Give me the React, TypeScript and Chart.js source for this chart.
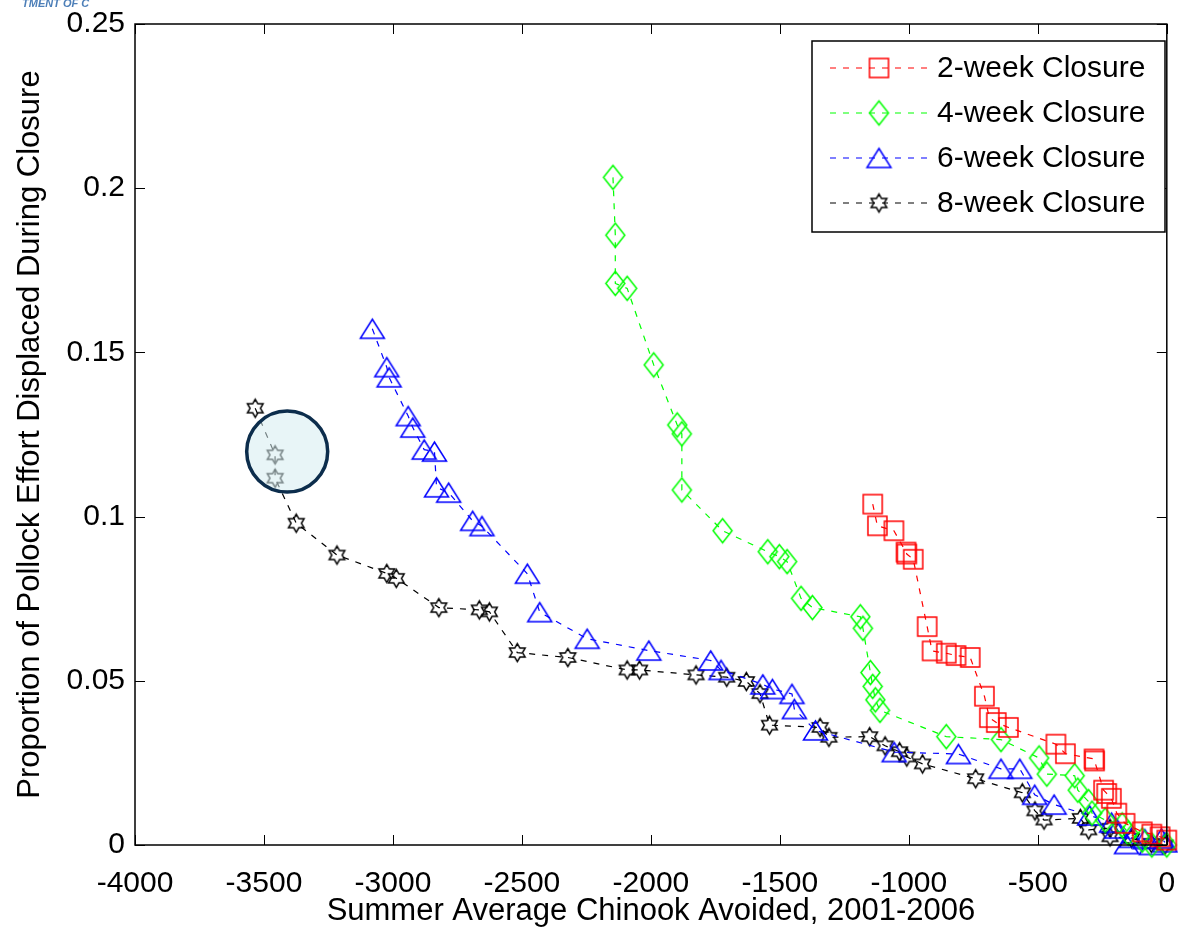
import React, { useEffect, useRef } from 'react';
import { Chart, registerables } from 'chart.js';

Chart.register(...registerables);

// ---------------- data ----------------
const X_TICKS = [-4000, -3500, -3000, -2500, -2000, -1500, -1000, -500, 0];
const X_TICK_LABELS = ['-4000', '-3500', '-3000', '-2500', '-2000', '-1500', '-1000', '-500', '0'];
const Y_TICKS = [0, 0.05, 0.1, 0.15, 0.2, 0.25];
const Y_TICK_LABELS = ['0', '0.05', '0.1', '0.15', '0.2', '0.25'];

const X_TITLE = 'Summer Average Chinook Avoided, 2001-2006';
const Y_TITLE = 'Proportion of Pollock Effort Displaced During Closure';
const SERIES_NAMES = ['2-week Closure', '4-week Closure', '6-week Closure', '8-week Closure'];

const WEEK2_X = [-1140, -1122, -1058, -1011, -1008, -983, -929, -910, -855, -817, -762, -707, -688, -661, -614, -430, -393, -282, -280, -245, -233, -215, -194, -162, -95, -58, -26, 0];
const WEEK2_Y = [0.1038, 0.0972, 0.0957, 0.0892, 0.0886, 0.087, 0.0665, 0.0591, 0.0584, 0.0577, 0.0571, 0.0453, 0.0388, 0.0373, 0.0358, 0.0307, 0.0278, 0.0262, 0.0256, 0.0167, 0.0157, 0.0142, 0.0097, 0.0066, 0.004, 0.0033, 0.0025, 0.0015];

const WEEK4_X = [-2147, -2138, -2138, -2092, -1989, -1898, -1880, -1880, -1722, -1547, -1502, -1472, -1418, -1374, -1188, -1178, -1149, -1140, -1130, -1112, -855, -643, -495, -465, -357, -345, -303, -290, -239, -173, -149, -95, -58, 0];
const WEEK4_Y = [0.2033, 0.1857, 0.171, 0.1695, 0.1462, 0.1279, 0.1252, 0.1081, 0.0957, 0.0893, 0.0878, 0.0863, 0.0751, 0.0723, 0.0695, 0.066, 0.0525, 0.0483, 0.0442, 0.041, 0.033, 0.0321, 0.0265, 0.0216, 0.0211, 0.0167, 0.0132, 0.0097, 0.0076, 0.0061, 0.0036, 0.0015, 0.0, 0.0];

const WEEK6_X = [-3080, -3024, -3015, -2941, -2923, -2879, -2839, -2831, -2784, -2691, -2655, -2479, -2431, -2247, -2008, -1768, -1728, -1566, -1529, -1453, -1444, -1362, -1057, -808, -643, -570, -512, -437, -299, -214, -194, -156, -137, -85, -60, -21, -7];
const WEEK6_Y = [0.1572, 0.1455, 0.1424, 0.1306, 0.1271, 0.1204, 0.1198, 0.1089, 0.1073, 0.0987, 0.0971, 0.0826, 0.0709, 0.0628, 0.0592, 0.0562, 0.0533, 0.0489, 0.0475, 0.046, 0.0414, 0.0349, 0.0283, 0.0277, 0.0232, 0.0232, 0.0153, 0.0123, 0.009, 0.0068, 0.005, 0.0003, 0.0022, 0.0018, 0.0, 0.002, 0.0008];

const WEEK8_X = [-3534, -3457, -3457, -3375, -3217, -3024, -2987, -2822, -2665, -2626, -2518, -2322, -2092, -2044, -1825, -1706, -1630, -1577, -1540, -1344, -1310, -1152, -1092, -1036, -1008, -947, -741, -560, -511, -476, -335, -303, -220, -220, -137, -60, -7];
const WEEK8_Y = [0.133, 0.1188, 0.1117, 0.098, 0.0883, 0.0827, 0.0812, 0.0723, 0.0716, 0.071, 0.0586, 0.0571, 0.0533, 0.0533, 0.0518, 0.0511, 0.0498, 0.0461, 0.0365, 0.0358, 0.0328, 0.033, 0.0302, 0.0284, 0.0268, 0.0247, 0.0202, 0.0159, 0.0104, 0.0076, 0.0081, 0.0046, 0.0051, 0.0025, 0.002, 0.0005, 0.0];

// highlighted region (circle annotation)
const HIGHLIGHT_X = -3410;
const HIGHLIGHT_Y = 0.1198;

// ---------------- styling ----------------
const FONT_FAMILY = '"Liberation Sans", Arial, Helvetica, sans-serif';
const COLORS = ['#ff0000', '#00ff00', '#0000ff', '#000000'];
const DASH = [6, 7];

type MarkerKind = 'square' | 'diamond' | 'triangle' | 'hexagram';
const KINDS: MarkerKind[] = ['square', 'diamond', 'triangle', 'hexagram'];

function makeMarker(kind: MarkerKind, color: string): HTMLCanvasElement {
  const size = 29;
  const c = document.createElement('canvas');
  c.width = size;
  c.height = size;
  const ctx = c.getContext('2d')!;
  const m = size / 2;
  ctx.strokeStyle = color;
  ctx.lineWidth = 1.5;
  ctx.lineJoin = 'miter';
  ctx.beginPath();
  if (kind === 'square') {
    ctx.rect(m - 9.5, m - 9.5, 19, 19);
  } else if (kind === 'diamond') {
    ctx.moveTo(m, m - 12);
    ctx.lineTo(m + 9.5, m);
    ctx.lineTo(m, m + 12);
    ctx.lineTo(m - 9.5, m);
    ctx.closePath();
  } else if (kind === 'triangle') {
    ctx.moveTo(m, m - 9.5);
    ctx.lineTo(m + 12, m + 9.5);
    ctx.lineTo(m - 12, m + 9.5);
    ctx.closePath();
  } else {
    const R = 9;
    const r = R / Math.sqrt(3);
    for (let i = 0; i < 12; i++) {
      const a = -Math.PI / 2 + (i * Math.PI) / 6;
      const rr = i % 2 === 0 ? R : r;
      const px = m + rr * Math.cos(a);
      const py = m + rr * Math.sin(a);
      if (i === 0) ctx.moveTo(px, py);
      else ctx.lineTo(px, py);
    }
    ctx.closePath();
  }
  ctx.stroke();
  return c;
}

function pts(xs: number[], ys: number[]) {
  return xs.map((x, i) => ({ x, y: ys[i] }));
}

export default function App() {
  const ref = useRef<HTMLCanvasElement | null>(null);

  useEffect(() => {
    const canvas = ref.current;
    if (!canvas) return;
    const markers = KINDS.map((k, i) => makeMarker(k, COLORS[i]));
    const seriesX = [WEEK2_X, WEEK4_X, WEEK6_X, WEEK8_X];
    const seriesY = [WEEK2_Y, WEEK4_Y, WEEK6_Y, WEEK8_Y];

    const framePlugin = {
      id: 'frame',
      afterDatasetsDraw(chart: any) {
        const { ctx, scales } = chart;
        const cx = scales.x.getPixelForValue(HIGHLIGHT_X);
        const cy = scales.y.getPixelForValue(HIGHLIGHT_Y);
        ctx.save();
        ctx.beginPath();
        ctx.arc(cx, cy, 40.5, 0, Math.PI * 2);
        ctx.fillStyle = 'rgba(214, 236, 240, 0.55)';
        ctx.fill();
        ctx.lineWidth = 3.5;
        ctx.strokeStyle = '#0c2d4c';
        ctx.stroke();
        ctx.restore();
      },
      afterDraw(chart: any) {
        const { ctx, chartArea, scales } = chart;
        const { left, right, top, bottom } = chartArea;
        ctx.save();
        ctx.strokeStyle = '#000';
        ctx.lineWidth = 1.5;
        ctx.setLineDash([]);
        ctx.strokeRect(left, top, right - left, bottom - top);
        ctx.lineWidth = 1;
        ctx.beginPath();
        X_TICKS.forEach((v) => {
          const px = Math.round(scales.x.getPixelForValue(v)) + 0.5;
          ctx.moveTo(px, bottom);
          ctx.lineTo(px, bottom - 10);
          ctx.moveTo(px, top);
          ctx.lineTo(px, top + 10);
        });
        Y_TICKS.forEach((v) => {
          const py = Math.round(scales.y.getPixelForValue(v)) + 0.5;
          ctx.moveTo(left, py);
          ctx.lineTo(left + 10, py);
          ctx.moveTo(right, py);
          ctx.lineTo(right - 10, py);
        });
        ctx.stroke();

        // legend
        const lx = 812, ly = 41, lw = 353, lh = 191;
        ctx.fillStyle = '#fff';
        ctx.fillRect(lx, ly, lw, lh);
        ctx.lineWidth = 1.5;
        ctx.strokeRect(lx, ly, lw, lh);
        ctx.font = '30px ' + FONT_FAMILY;
        ctx.textBaseline = 'middle';
        ctx.textAlign = 'left';
        SERIES_NAMES.forEach((name, i) => {
          const ry = ly + 27 + i * 45;
          ctx.save();
          ctx.strokeStyle = COLORS[i];
          ctx.lineWidth = 1.2;
          ctx.setLineDash(DASH);
          ctx.beginPath();
          ctx.moveTo(830, ry);
          ctx.lineTo(927, ry);
          ctx.stroke();
          ctx.restore();
          const mk = markers[i];
          ctx.drawImage(mk, 879 - mk.width / 2, ry - mk.height / 2);
          ctx.fillStyle = '#000';
          ctx.fillText(name, 937, ry + 1);
        });

        // partial logo text at the top-left corner
        ctx.font = 'italic bold 11px ' + FONT_FAMILY;
        ctx.fillStyle = '#4d7fb8';
        ctx.textBaseline = 'alphabetic';
        ctx.fillText('TMENT OF C', 22, 7);
        ctx.restore();
      },
    };

    const tickFont = { family: FONT_FAMILY, size: 30 };
    const titleFont = { family: FONT_FAMILY, size: 31, lineHeight: 1 };

    const chart = new Chart(canvas, {
      type: 'scatter',
      data: {
        datasets: SERIES_NAMES.map((name, i) => ({
          label: name,
          data: pts(seriesX[i], seriesY[i]),
          showLine: true,
          borderColor: COLORS[i],
          backgroundColor: 'transparent',
          borderWidth: 1.2,
          borderDash: DASH,
          pointStyle: markers[i] as any,
          pointRadius: 10,
          tension: 0,
          fill: false,
          clip: false as any,
        })),
      },
      options: {
        animation: false,
        responsive: false,
        events: [],
        layout: { padding: { top: 24, right: 2, left: 0, bottom: 0 } },
        plugins: {
          legend: { display: false },
          tooltip: { enabled: false },
        },
        scales: {
          x: {
            type: 'linear',
            min: -4000,
            max: 0,
            grid: { display: false, drawTicks: false },
            border: { display: false },
            afterBuildTicks: (s: any) => {
              s.ticks = X_TICKS.map((v) => ({ value: v }));
            },
            ticks: {
              autoSkip: false,
              maxRotation: 0,
              color: '#000',
              font: tickFont,
              padding: 21,
              callback: (_v: any, i: number) => X_TICK_LABELS[i],
            },
            title: {
              display: true,
              text: X_TITLE,
              color: '#000',
              font: titleFont,
              padding: { top: 0, bottom: 0 },
            },
            afterFit: (s: any) => {
              s.height = 82;
              s.paddingLeft = 0;
              s.paddingRight = 0;
            },
          },
          y: {
            type: 'linear',
            min: 0,
            max: 0.25,
            grid: { display: false, drawTicks: false },
            border: { display: false },
            afterBuildTicks: (s: any) => {
              s.ticks = Y_TICKS.map((v) => ({ value: v }));
            },
            ticks: {
              autoSkip: false,
              color: '#000',
              font: tickFont,
              padding: 10,
              callback: (_v: any, i: number) => Y_TICK_LABELS[i],
            },
            title: {
              display: true,
              text: Y_TITLE,
              color: '#000',
              font: titleFont,
              padding: { top: 15, bottom: 0 },
            },
            afterFit: (s: any) => {
              s.width = 135;
              s.paddingTop = 0;
              s.paddingBottom = 0;
            },
          },
        },
      } as any,
      plugins: [framePlugin],
    });

    return () => chart.destroy();
  }, []);

  return (
    <div style={{ position: 'absolute', left: 0, top: 0, width: 1178, height: 927, background: '#fff' }}>
      <canvas ref={ref} width={1178} height={927} style={{ width: 1178, height: 927, display: 'block' }} />
    </div>
  );
}
